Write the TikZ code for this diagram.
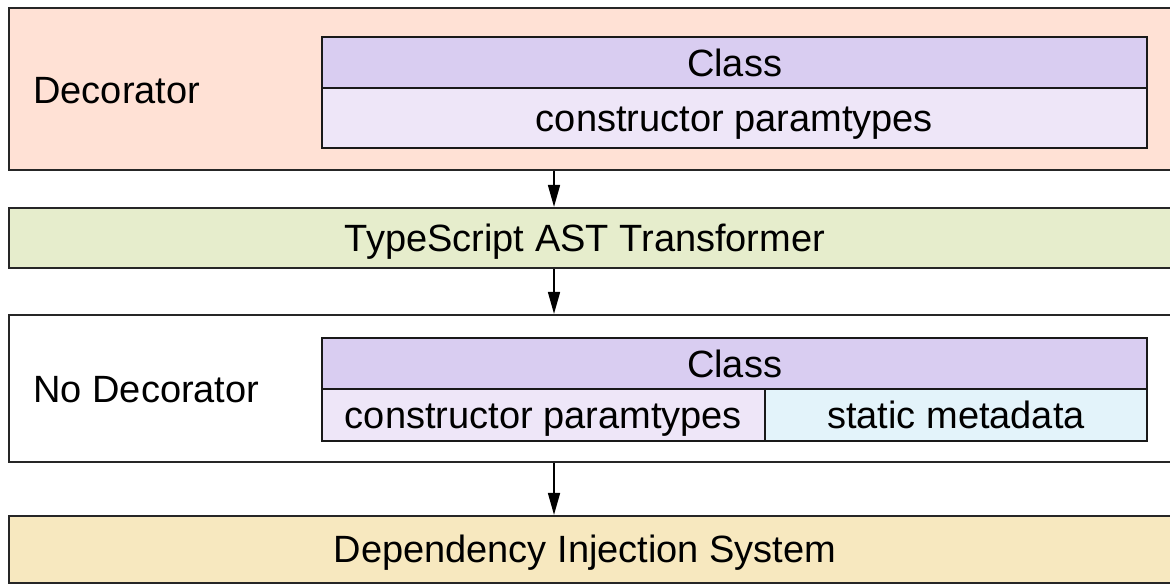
\documentclass[tikz,border=0pt]{standalone}
\usepackage{fontspec}
\setmainfont{Liberation Sans}
\usetikzlibrary{fit,arrows.meta}
\definecolor{decfill}{HTML}{FFE1D5}
\definecolor{hdrfill}{HTML}{D9CDF1}
\definecolor{parfill}{HTML}{EEE6F8}
\definecolor{metafill}{HTML}{E3F3FA}
\definecolor{tsfill}{HTML}{E6EDCC}
\definecolor{difill}{HTML}{F7E8BF}
\tikzset{
  outer/.style={draw=black!85, line width=1.1pt, inner sep=0pt},
  cell/.style={draw=black!90, line width=1pt, inner sep=0pt},
  lbl/.style={font=\fontsize{19}{22}\selectfont, inner sep=0pt,
    text height=13.7pt, text depth=0pt},
  arr/.style={line width=0.8pt, -{Triangle[length=11pt,width=6pt]}},
}
\begin{document}
\begin{tikzpicture}[x=0.5pt,y=-0.5pt]
\clip (0,0) rectangle (1170,584);
\useasboundingbox (0,0) rectangle (1170,584);

% layer 1: decorated class
\node[outer, fill=decfill, fit={(9,8)(1190,170)}] (dec) {};
\node[lbl, anchor=west] (declbl) at (33,90) {Decorator};
\node[cell, fill=hdrfill, fit={(322,37)(1147,88)}] (cls1) {};
\node[lbl] at (cls1.center) {Class};
\node[cell, fill=parfill, fit={(322,88)(1147,148)}] (par1) {};
\node[lbl] at (par1.center) {constructor paramtypes};

% layer 2: transformer
\node[outer, fill=tsfill, fit={(9,208)(1190,268)}] (ts) {};
\node[lbl] at (585,238) {TypeScript AST Transformer};

% layer 3: undecorated class
\node[outer, fill=white, fit={(9,315)(1190,462)}] (nodec) {};
\node[lbl, anchor=west] (nodeclbl) at (33,389) {No Decorator};
\node[cell, fill=hdrfill, fit={(322,338)(1147,389)}] (cls2) {};
\node[lbl] at (cls2.center) {Class};
\node[cell, fill=parfill, fit={(322,389)(765,441)}] (par2) {};
\node[lbl] at (par2.center) {constructor paramtypes};
\node[cell, fill=metafill, fit={(765,389)(1147,441)}] (meta) {};
\node[lbl] at (meta.center) {static metadata};

% layer 4: DI system
\node[outer, fill=difill, fit={(9,516)(1190,583)}] (di) {};
\node[lbl] at (585,549) {Dependency Injection System};

% flow arrows
\coordinate (ax) at (554,0);
\draw[arr] (dec.south -| ax) -- (ts.north -| ax);
\draw[arr] (ts.south -| ax) -- (nodec.north -| ax);
\draw[arr] (nodec.south -| ax) -- (di.north -| ax);
\end{tikzpicture}
\end{document}
